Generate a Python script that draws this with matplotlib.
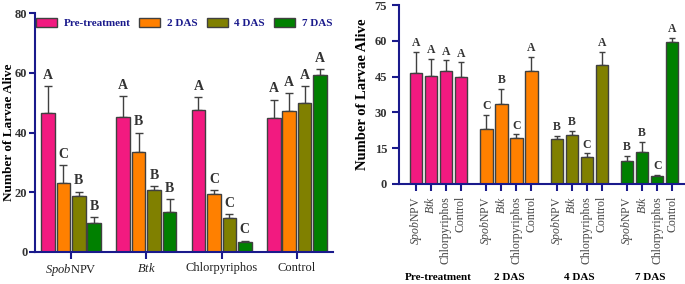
import numpy as np
import matplotlib
matplotlib.use("Agg")
import matplotlib.pyplot as plt

plt.rcParams["font.family"] = ["Liberation Serif", "DejaVu Serif"]
plt.rcParams["mathtext.fontset"] = "custom"
plt.rcParams["mathtext.it"] = "Liberation Serif:italic"
plt.rcParams["mathtext.rm"] = "Liberation Serif"

treatments = [r"$\it{Spob}$NPV", r"$\it{Btk}$", "Chlorpyriphos", "Control"]
times = ["Pre-treatment", "2 DAS", "4 DAS", "7 DAS"]

# rows: treatment, cols: time
means = np.array([
    [46.5, 23.0, 18.7, 9.7],
    [45.3, 33.5, 20.6, 13.3],
    [47.5, 19.3, 11.3, 3.3],
    [45.0, 47.3, 50.0, 59.3],
])
errs = np.array([
    [9.0, 6.0, 1.5, 2.1],
    [7.0, 6.5, 1.6, 4.5],
    [4.3, 1.5, 1.5, 0.5],
    [6.0, 6.0, 5.5, 2.0],
])
letters = [
    ["A", "C", "B", "B"],
    ["A", "B", "B", "B"],
    ["A", "C", "C", "C"],
    ["A", "A", "A", "A"],
]
colors = ["#F21A80", "#FF8000", "#808000", "#008000"]
navy = "#1A1A8C"
edge = "#404040"

fig = plt.figure(figsize=(6.85, 2.84), dpi=100)

# left panel: grouped by treatment
ax1 = fig.add_axes([35 / 685, 32 / 284, 298 / 685, 239 / 284])
x = np.arange(4)
pitch, w = 0.205, 0.18
for j in range(4):
    xs = x + (j - 1.5) * pitch
    ax1.bar(xs, means[:, j], w, color=colors[j], edgecolor=edge, linewidth=1,
            label=times[j], zorder=2)
    ax1.errorbar(xs, means[:, j], yerr=[np.zeros(4), errs[:, j]], fmt="none",
                 ecolor=edge, elinewidth=1, capsize=3, capthick=1, zorder=1)
    for i in range(4):
        ax1.annotate(letters[i][j], (xs[i], means[i, j] + errs[i, j]),
                     xytext=(0, 3), textcoords="offset points", ha="center",
                     va="bottom", fontsize=10, fontweight="bold", color="#333333")
ax1.set_xlim(-0.48, 3.48)
ax1.set_ylim(0, 80)
ax1.set_yticks([0, 20, 40, 60, 80])
ax1.set_xticks(x)
ax1.set_xticklabels(treatments, fontsize=9)
ax1.set_ylabel("Number of Larvae Alive", fontsize=9.5, fontweight="bold")
ax1.yaxis.set_label_coords(-0.066, 0.5)
for lab in ax1.get_yticklabels():
    lab.set_fontweight("bold")
    lab.set_fontsize(9)
ax1.spines["top"].set_visible(False)
ax1.spines["right"].set_visible(False)
for s in ["left", "bottom"]:
    ax1.spines[s].set_color(navy)
    ax1.spines[s].set_linewidth(1.5)
ax1.tick_params(axis="both", colors=navy, width=1.5, length=4, pad=1.5)
ax1.tick_params(axis="x", labelcolor="#222222", length=5, pad=2.5)
ax1.tick_params(axis="y", labelcolor="#333333")
leg = ax1.legend(ncol=4, loc="upper center", bbox_to_anchor=(0.5, 1.02), frameon=False,
                 handlelength=1.9, handleheight=0.8, columnspacing=0.8, handletextpad=0.6,
                 prop={"weight": "bold", "size": 8})
for t in leg.get_texts():
    t.set_color(navy)

# right panel: grouped by time
ax2 = fig.add_axes([399 / 685, 100 / 284, 286 / 685, 179 / 284])
gap = 4.7
ticks, labels = [], []
for j in range(4):
    xs = j * gap + np.arange(4)
    ax2.bar(xs, means[:, j], 0.82, color=colors[j], edgecolor=edge, linewidth=1, zorder=2)
    ax2.errorbar(xs, means[:, j], yerr=[np.zeros(4), errs[:, j]], fmt="none",
                 ecolor=edge, elinewidth=1, capsize=2.5, capthick=1, zorder=1)
    for i in range(4):
        ax2.annotate(letters[i][j], (xs[i], means[i, j] + errs[i, j]),
                     xytext=(0, 2), textcoords="offset points", ha="center",
                     va="bottom", fontsize=8.5, fontweight="bold", color="#333333")
    ticks += list(xs)
    labels += treatments
    ax2.text(j * gap + 1.5, -0.52, times[j], transform=ax2.get_xaxis_transform(),
             ha="center", va="center", fontsize=8, fontweight="bold")
ax2.set_xlim(-1.13, 3 * gap + 3.85)
ax2.set_ylim(0, 75)
ax2.set_yticks([0, 15, 30, 45, 60, 75])
ax2.set_xticks(ticks)
ax2.set_xticklabels(labels, rotation=90, fontsize=8.5)
ax2.set_ylabel("Number of Larvae Alive", fontsize=10.5, fontweight="bold", labelpad=4)
for lab in ax2.get_yticklabels():
    lab.set_fontweight("bold")
    lab.set_fontsize(9)
ax2.spines["top"].set_visible(False)
ax2.spines["right"].set_visible(False)
for s in ["left", "bottom"]:
    ax2.spines[s].set_color(navy)
    ax2.spines[s].set_linewidth(1.5)
ax2.tick_params(axis="both", colors=navy, width=1.5, length=5)
ax2.tick_params(axis="x", labelcolor="#444444")
ax2.tick_params(axis="y", labelcolor="#333333")

fig.savefig("out.png", dpi=100)
